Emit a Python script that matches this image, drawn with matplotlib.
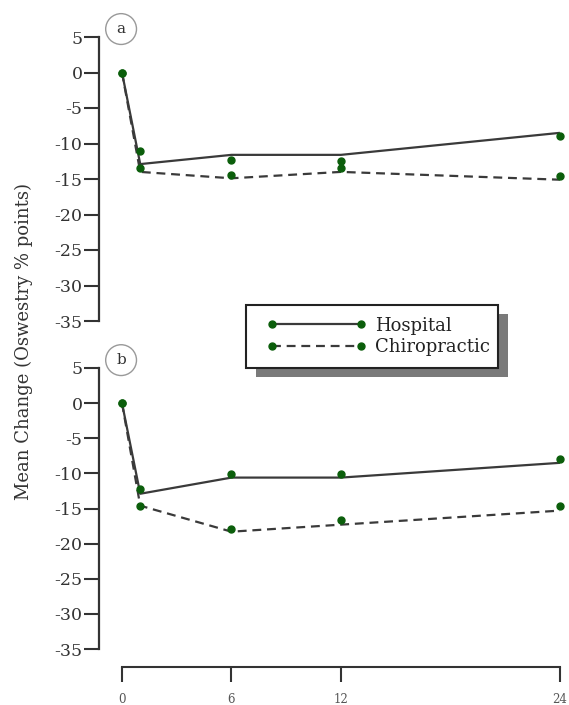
import matplotlib.pyplot as plt
from matplotlib.lines import Line2D
from matplotlib.patches import Rectangle

# months of follow-up
months = [0, 1, 6, 12, 24]
x_ticks = [0, 6, 12, 24]
y_ticks = [5, 0, -5, -10, -15, -20, -25, -30, -35]

# fitted mean change (lines)
hosp_a_line = [0, -12.9, -11.6, -11.6, -8.5]
chiro_a_line = [0, -14.0, -14.9, -14.0, -15.1]
hosp_b_line = [0, -12.9, -10.6, -10.6, -8.5]
chiro_b_line = [0, -14.6, -18.3, -17.3, -15.3]

# observed mean change (dots)
hosp_a_pts = [0, -11.1, -12.3, -12.4, -9.0]
chiro_a_pts = [0, -13.4, -14.4, -13.5, -14.6]
hosp_b_pts = [0, -12.2, -10.1, -10.1, -7.9]
chiro_b_pts = [0, -14.6, -17.9, -16.7, -14.6]

plt.rcParams['font.family'] = ['DejaVu Serif']
plt.rcParams['axes.unicode_minus'] = False

W, H = 569, 705
line_col = '#3a3a3a'
dot_col = '#0b5e0b'
spine_col = '#333333'

fig = plt.figure(figsize=(W / 100, H / 100), dpi=100)
fig.patch.set_facecolor('white')

# axes positions in pixels: left, top(value 5), bottom(value -35)
ax_a = fig.add_axes([99 / W, 1 - 321 / H, 470 / W, (321 - 37) / H])
ax_b = fig.add_axes([99 / W, 1 - 649 / H, 470 / W, (649 - 368) / H])

panels = [
    (ax_a, 'a', hosp_a_line, chiro_a_line, hosp_a_pts, chiro_a_pts),
    (ax_b, 'b', hosp_b_line, chiro_b_line, hosp_b_pts, chiro_b_pts),
]

for ax, tag, h_line, c_line, h_pts, c_pts in panels:
    ax.plot(months, h_line, color=line_col, lw=1.6, solid_capstyle='butt', clip_on=False)
    ax.plot(months, c_line, color=line_col, lw=1.6, ls=(0, (4, 2.6)), clip_on=False)
    ax.plot(months, h_pts, 'o', color=dot_col, ms=5, clip_on=False, zorder=3)
    ax.plot(months, c_pts, 'o', color=dot_col, ms=5, clip_on=False, zorder=3)

    ax.set_xlim(-1.26, 24.5)
    ax.set_ylim(-35, 5)
    ax.set_yticks(y_ticks)
    ax.set_yticklabels([str(v) for v in y_ticks])
    for s in ['top', 'right']:
        ax.spines[s].set_visible(False)
    ax.spines['left'].set_color(spine_col)
    ax.spines['left'].set_linewidth(1.6)
    ax.tick_params(axis='y', length=10.8, width=1.5, color=spine_col, pad=1,
                   labelsize=12.5, labelcolor='#333333')
    ax.patch.set_alpha(0)

    # circled panel letter
    ax.text(0.047, 1.028, tag, transform=ax.transAxes, ha='center', va='center',
            fontsize=11, color='#333333',
            bbox=dict(boxstyle='circle,pad=0.55', fc='white', ec='#999999', lw=1),
            clip_on=False)

ax_a.spines['bottom'].set_visible(False)
ax_a.set_xticks([])

# bracket-style x axis below panel b
ax_b.spines['bottom'].set_position(('outward', 13))
ax_b.spines['bottom'].set_bounds(0, 24)
ax_b.spines['bottom'].set_color(spine_col)
ax_b.spines['bottom'].set_linewidth(1.5)
ax_b.set_xticks(x_ticks)
ax_b.set_xticklabels([str(v) for v in x_ticks])
ax_b.tick_params(axis='x', length=10.8, width=1.5, color=spine_col, pad=8,
                 labelsize=8.5, labelcolor='#555555')

fig.text(24 / W, 1 - 342 / H, 'Mean Change (Oswestry % points)', rotation=90,
         ha='center', va='center', fontsize=13, color='#333333')

# legend box with drop shadow
fig.add_artist(Rectangle((256 / W, 1 - 377 / H), 252 / W, 63 / H,
                         transform=fig.transFigure, fc='#7a7a7a', ec='none', zorder=1))
fig.add_artist(Rectangle((246 / W, 1 - 368 / H), 252 / W, 63 / H,
                         transform=fig.transFigure, fc='white', ec='#222222',
                         lw=1.5, zorder=2))

handles = [
    Line2D([], [], color=line_col, lw=1.6, marker='o', ms=5,
           mfc=dot_col, mec=dot_col),
    Line2D([], [], color=line_col, lw=1.6, ls=(0, (4, 2.6)), marker='o', ms=5,
           mfc=dot_col, mec=dot_col),
]
fig.legend(handles, ['Hospital', 'Chiropractic'], loc='center left',
           bbox_to_anchor=(267 / W, 1 - 336.5 / H), frameon=False,
           borderpad=0, borderaxespad=0, numpoints=2, handlelength=5.48,
           handletextpad=0.48, labelspacing=0.2,
           prop={'family': 'DejaVu Serif', 'size': 13}, labelcolor='#222222')

fig.savefig('out.png', dpi=100)
